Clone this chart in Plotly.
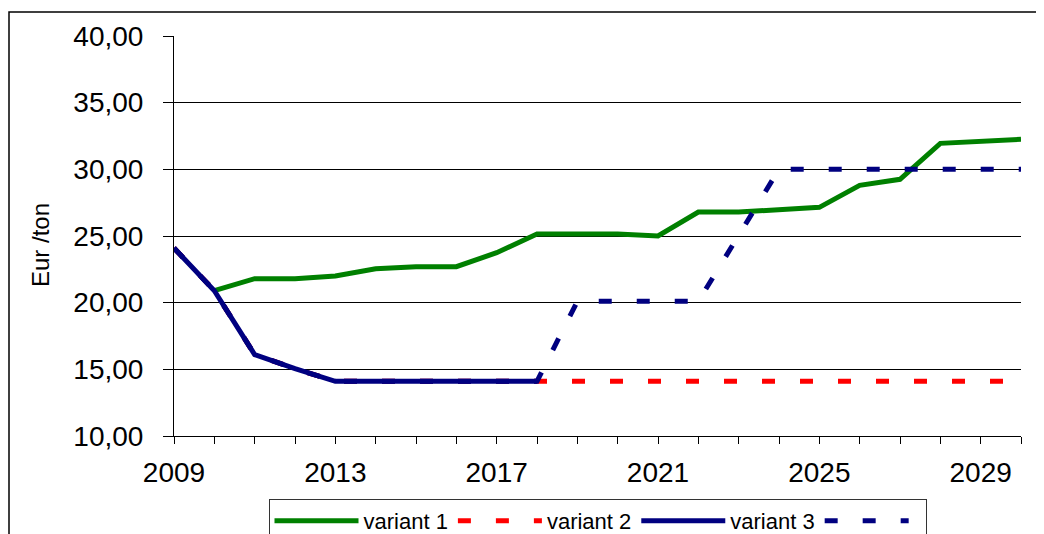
import plotly.graph_objects as go

years = list(range(2009, 2031))

variant1 = [None, 20.9, 21.8, 21.8, 22.0, 22.55, 22.7, 22.7, 23.75, 25.15, 25.15,
            25.15, 25.0, 26.8, 26.8, 26.97, 27.15, 28.8, 29.25, 31.95, 32.1, 32.25]
variant2 = [24.1, 20.9, 16.1, 15.05, 14.1, 14.1, 14.1, 14.1, 14.1, 14.1, 14.1,
            14.1, 14.1, 14.1, 14.1, 14.1, 14.1, 14.1, 14.1, 14.1, 14.1, 14.1]
variant3 = [24.1, 20.9, 16.1, 15.05, 14.1, 14.1, 14.1, 14.1, 14.1, 14.1] + [None] * 12
variant3b = [24.1, 20.9, 16.1, 15.05, 14.1, 14.1, 14.1, 14.1, 14.1, 14.1, 20.1,
             20.1, 20.1, 20.1, 25.05, 30.0, 30.0, 30.0, 30.0, 30.0, 30.0, 30.0]

x_tick_labels = ["2009", "", "", "", "2013", "", "", "", "2017", "", "", "",
                 "2021", "", "", "", "2025", "", "", "", "2029", ""]
y_title = "Eur /ton"

FONT = "Liberation Sans, Arial, sans-serif"
GREEN = "#008000"
RED = "#FF0000"
NAVY = "#000080"

fig = go.Figure()
fig.add_trace(go.Scatter(x=years, y=variant1, name="variant 1", mode="lines",
                         line=dict(color=GREEN, width=5)))
fig.add_trace(go.Scatter(x=years, y=variant2, name="variant 2", mode="lines",
                         line=dict(color=RED, width=5, dash="13px,25px")))
fig.add_trace(go.Scatter(x=years, y=variant3, name="variant 3", mode="lines",
                         line=dict(color=NAVY, width=5)))
fig.add_trace(go.Scatter(x=years, y=variant3b, name=" ", mode="lines",
                         line=dict(color=NAVY, width=5, dash="13px,25px")))

# page has an 8px body margin; figure placed at (8, 8)
OFF = 8
W, H = 1044 - OFF, 534 - OFF
L, R, T = 174 - OFF, 23, 36 - OFF
plot_bottom = 436 - OFF
B = H - plot_bottom
pw, ph = W - L - R, plot_bottom - T

fig.update_layout(
    width=W, height=H,
    margin=dict(l=L, r=R, t=T, b=B, autoexpand=False),
    paper_bgcolor="white", plot_bgcolor="white",
    separators=", ",
    font=dict(family=FONT, color="black", size=22),
    legend=dict(orientation="h", x=0.5, xanchor="center",
                y=-((499 - OFF) - plot_bottom) / ph, yanchor="top",
                bgcolor="white", bordercolor="#333333", borderwidth=1,
                font=dict(size=22, family=FONT), itemwidth=84,
                traceorder="normal"),
    xaxis=dict(range=[2009, 2030], tickmode="array", tickvals=years,
               ticktext=x_tick_labels, ticks="outside", ticklen=7,
               tickcolor="black", showline=True, linecolor="black", linewidth=1,
               showgrid=False, zeroline=False, ticklabelstandoff=4,
               tickfont=dict(size=28, family=FONT)),
    yaxis=dict(range=[10, 40], tick0=10, dtick=5, tickformat=".2f",
               ticks="outside", ticklen=10, tickcolor="black",
               showline=True, linecolor="black", linewidth=1,
               showgrid=True, gridcolor="black", gridwidth=1, zeroline=False,
               ticklabelstandoff=14,
               tickfont=dict(size=28, family=FONT)),
    shapes=[dict(type="rect", xref="paper", yref="paper",
                 x0=(1 - L) / pw, x1=(1080 - L) / pw,
                 y0=-(600 - plot_bottom) / ph, y1=1 + (T - 4) / ph,
                 line=dict(color="black", width=1.5), layer="below")],
    annotations=[dict(text=y_title, textangle=-90, showarrow=False,
                      xref="paper", yref="paper",
                      x=((40 - OFF) - L) / pw, y=1 - ((245 - OFF) - T) / ph,
                      xanchor="center", yanchor="middle",
                      font=dict(size=24, family=FONT, color="black"))],
)

fig.write_html("out.html")
